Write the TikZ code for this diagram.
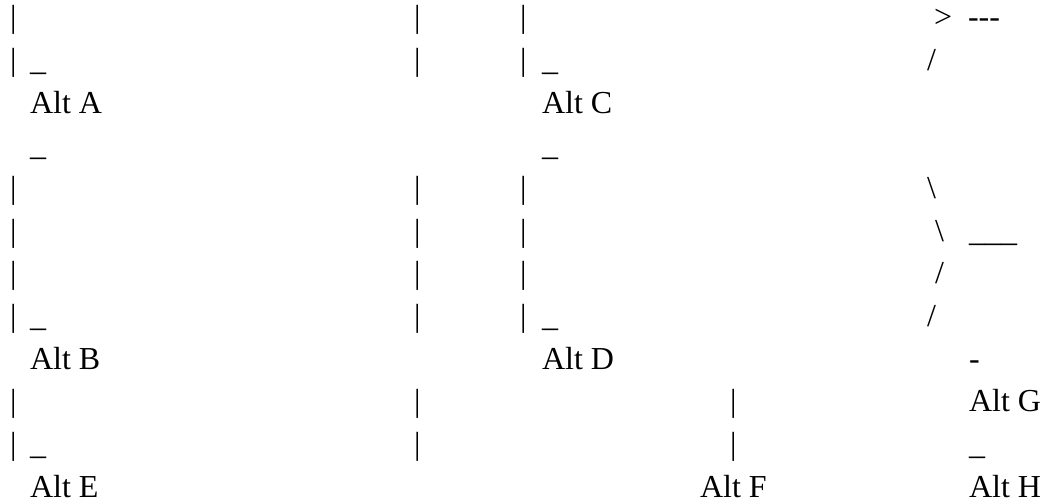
\documentclass[tikz,border=0pt]{standalone}
\usepackage{fontspec}
\setmainfont{Liberation Serif}
\tikzset{
    glyph/.style={anchor=base west, inner sep=0pt, outer sep=0pt, font=\fontsize{32}{40}\selectfont},
}

\begin{document}
\begin{tikzpicture}[x=1pt, y=-1pt]
        \useasboundingbox (0,0) rectangle (1046,503);
        % vertical bars, left and middle columns
        \foreach \y [count=\i] in {27.7,70.3,198.3,241,283.7,326.3,411.7,454.3} {
            \node[glyph] (barA\i) at (10,\y) {|};
            \node[glyph] (barB\i) at (414,\y) {|};
        }
        \foreach \y [count=\i] in {27.7,70.3,198.3,241,283.7,326.3} {
            \node[glyph] (barC\i) at (520,\y) {|};
        }
        \node[glyph] (barF1) at (730,411.7) {|};
        \node[glyph] (barF2) at (730,454.3) {|};
        % underscores
        \foreach \y [count=\i] in {70.3,155.7,326.3,454.3} {
            \node[glyph] (lowA\i) at (30,\y) {\_};
        }
        \foreach \y [count=\i] in {70.3,155.7,326.3} {
            \node[glyph] (lowC\i) at (542,\y) {\_};
        }
        \node[glyph] (lowH) at (969,454.3) {\_};
        % labels
        \node[glyph] (A) at (30,113) {Alt A};
        \node[glyph] (C) at (542,113) {Alt C};
        \node[glyph] (B) at (30,369) {Alt B};
        \node[glyph] (D) at (542,369) {Alt D};
        \node[glyph] (G) at (969,411.7) {Alt G};
        \node[glyph] (E) at (30,497) {Alt E};
        \node[glyph] (F) at (700,497) {Alt F};
        \node[glyph] (H) at (969,497) {Alt H};
        % right hand sketch
        \node[glyph] (tip) at (934,27.7) {>};
        \node[glyph] (dashes) at (968,27.7) {-{}-{}-};
        \node[glyph] (slashA) at (927,70.3) {/};
        \node[glyph] (backA) at (927,198.3) {\textbackslash};
        \node[glyph] (backB) at (935,241) {\textbackslash};
        \node[glyph] (rule) at (969,241) {\_\_\_};
        \node[glyph] (slashB) at (935,283.7) {/};
        \node[glyph] (slashC) at (927,326.3) {/};
        \node[glyph] (dash) at (969,369) {-};
\end{tikzpicture}
\end{document}
